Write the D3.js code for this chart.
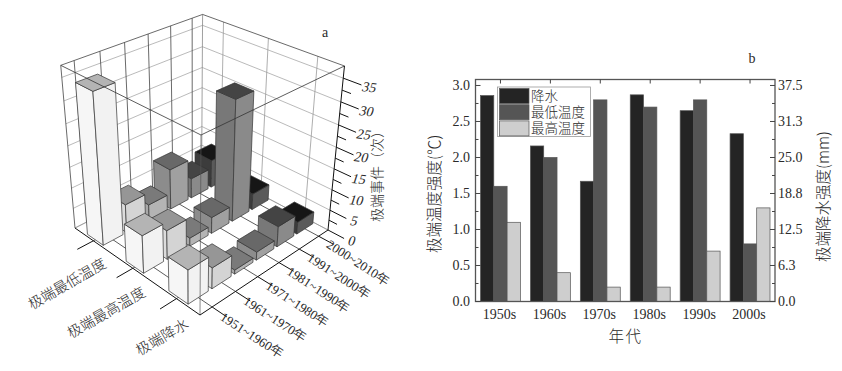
<!DOCTYPE html>
<html>
<head>
<meta charset="utf-8">
<script src="https://cdnjs.cloudflare.com/ajax/libs/d3/7.8.5/d3.min.js"></script>
<style>
  html, body { margin: 0; background: #fff; }
  svg { display: block; }
  text { fill: #2a2a2a; }
</style>
</head>
<body>
<div id="chart"></div>
<script>
// panel a: extreme event counts
let eventTypes = ['极端最低温度', '极端最高温度', '极端降水']
let decadeLabels = ['1951~1960年', '1961~1970年', '1971~1980年', '1981~1990年', '1991~2000年', '2000~2010年']
let minTempEvents = [35, 7, 4, 10, 5, 7]
let maxTempEvents = [9, 7, 2, 4, 29, 4]
let precipEvents = [8, 5, 1, 2, 5, 3]
let eventRows = [minTempEvents, maxTempEvents, precipEvents]
let eventTicks = [0, 5, 10, 15, 20, 25, 30, 35]
let eventMinorTicks = [2.5, 7.5, 12.5, 17.5, 22.5, 27.5, 32.5]

// panel b: intensity per decade
let decades = ['1950s', '1960s', '1970s', '1980s', '1990s', '2000s']
let precipIntensity = [2.86, 2.16, 1.67, 2.87, 2.65, 2.33]
let minTempIntensity = [1.6, 2.0, 2.8, 2.7, 2.8, 0.8]
let maxTempIntensity = [1.1, 0.4, 0.2, 0.2, 0.7, 1.3]
let seriesNames = ['降水', '最低温度', '最高温度']
let seriesColors = ['#242424', '#555555', '#cecece']
let tempTicks = [0, 0.5, 1, 1.5, 2, 2.5, 3]
let tempMinorTicks = [0.25, 0.75, 1.25, 1.75, 2.25, 2.75]
let rainTickLabels = ['0.0', '6.3', '12.5', '18.8', '25.0', '31.3', '37.5']

// grey levels per decade: [left face, right face, top]
let decadeShades = [
    ['#f6f6f6', '#f2f2f2', '#b4b4b4'],
    ['#dcdcdc', '#d4d4d4', '#969696'],
    ['#a8a8a8', '#b4b4b4', '#7a7a7a'],
    ['#8c8c8c', '#a0a0a0', '#686868'],
    ['#787878', '#8a8a8a', '#444444'],
    ['#3c3c3c', '#5a5a5a', '#161616']
]

let svg = d3.select('#chart').append('svg').attr('width', 842).attr('height', 371)
let serif = '"Liberation Serif", serif'
let cjk = '"Noto Sans CJK SC", sans-serif'

// perspective of the box: u runs front->left, v front->right, w floor->top
let g1 = 0.16, g2 = 0.15, g3 = -0.125
let origin = [200, 315], cornerU = [75, 228], cornerV = [328, 230], cornerW = [201, 135]
let coef = (c, i, g) => c[i] * (1 + g) - origin[i]
let project = (u, v, w) => {
    let d = 1 + g1 * u + g2 * v + g3 * w
    let px = origin[0] + coef(cornerU, 0, g1) * u + coef(cornerV, 0, g2) * v + coef(cornerW, 0, g3) * w
    let py = origin[1] + coef(cornerU, 1, g1) * u + coef(cornerV, 1, g2) * v + coef(cornerW, 1, g3) * w
    return [px / d, py / d]
}

let uScale = d3.scaleBand().domain(eventTypes).range([1, 0])
let vScale = d3.scaleBand().domain(decadeLabels).range([0, 1])
let wScale = d3.scaleLinear().domain([0, 37.5]).range([0, 1])
let uMid = (name) => uScale(name) + uScale.bandwidth() / 2
let vMid = (name) => vScale(name) + vScale.bandwidth() / 2

let panelA = svg.append('g')
let seg = (a, b, color, width, parent) => {
    let p = project(...a), q = project(...b);
    (parent || panelA).append('line')
        .attr('x1', p[0]).attr('y1', p[1]).attr('x2', q[0]).attr('y2', q[1])
        .attr('stroke', color).attr('stroke-width', width)
}

// walls
eventTicks.forEach((t) => {
    let w = wScale(t)
    seg([1, 0, w], [1, 1, w], '#a8a8a8', 0.8)
    seg([0, 1, w], [1, 1, w], '#a8a8a8', 0.8)
})
decadeLabels.forEach((d) => seg([1, vMid(d), 0], [1, vMid(d), 1], '#444', 0.8))
eventTypes.forEach((c) => seg([uMid(c), 1, 0], [uMid(c), 1, 1], '#999', 0.8))
seg([1, 1, 0], [1, 1, 1], '#888', 0.8)
seg([1, 0, 1], [1, 1, 1], '#444', 0.8)
seg([0, 1, 1], [1, 1, 1], '#444', 0.8)
seg([1, 0, 0], [1, 0, 1], '#444', 0.8)

// floor
eventTypes.forEach((c) => seg([uMid(c), 0, 0], [uMid(c), 1, 0], '#333', 0.8))
decadeLabels.forEach((d) => seg([0, vMid(d), 0], [1, vMid(d), 0], '#333', 0.8))
seg([1, 1, 0], [0, 1, 0], '#888', 0.6)
seg([1, 1, 0], [1, 0, 0], '#888', 0.6)

// bars, far ones first
let halfBar = 0.07
let bars = []
eventTypes.forEach((c, i) => {
    decadeLabels.forEach((d, j) => {
        bars.push({ u: uMid(c), v: vMid(d), value: eventRows[i][j], shade: decadeShades[j] })
    })
})
bars.sort((a, b) => (b.u + b.v) - (a.u + a.v))
let line = d3.line()
bars.forEach((b) => {
    let u0 = b.u - halfBar, u1 = b.u + halfBar, v0 = b.v - halfBar, v1 = b.v + halfBar, w = wScale(b.value)
    let faces = [
        [[[u1, v0, 0], [u0, v0, 0], [u0, v0, w], [u1, v0, w]], b.shade[0]],
        [[[u0, v0, 0], [u0, v1, 0], [u0, v1, w], [u0, v0, w]], b.shade[1]],
        [[[u0, v0, w], [u0, v1, w], [u1, v1, w], [u1, v0, w]], b.shade[2]]
    ]
    faces.forEach((f) => {
        panelA.append('path')
            .attr('d', line(f[0].map((p) => project(...p))) + 'Z')
            .attr('fill', f[1])
            .attr('stroke', '#333')
            .attr('stroke-width', 0.7)
            .attr('stroke-linejoin', 'round')
    })
})

// edges in front of the bars
seg([0, 0, 0], [0, 0, 1], '#555', 0.7)
seg([1, 0, 1], [0, 0, 1], '#333', 0.8)
seg([0, 1, 1], [0, 0, 1], '#333', 0.8)

// axes of the box
seg([0, 0, 0], [1, 0, 0], '#111', 1)
seg([0, 0, 0], [0, 1, 0], '#111', 1)
seg([0, 1, 0], [0, 1, 1], '#111', 1)

eventTypes.forEach((c) => {
    seg([uMid(c), 0, 0], [uMid(c), -0.11, 0], '#111', 1)
    let p = project(uMid(c), -0.15, 0)
    panelA.append('text')
        .attr('transform', `translate(${p[0] + 33},${p[1] + 9}) rotate(-30)`)
        .attr('text-anchor', 'end').attr('dy', '0.4em')
        .attr('font-family', cjk).attr('font-size', 14.5).attr('font-weight', 300)
        .text(c)
})
decadeLabels.forEach((d) => {
    seg([0, vMid(d), 0], [-0.1, vMid(d), 0], '#111', 1)
    let p = project(-0.085, vMid(d), 0)
    panelA.append('text')
        .attr('transform', `translate(${p[0] - 3},${p[1]}) rotate(33)`)
        .attr('dy', '0.35em')
        .attr('font-family', serif).attr('font-size', 13)
        .text(d)
})
eventTicks.forEach((t) => {
    seg([0, 1, wScale(t)], [-0.11, 1, wScale(t)], '#111', 1)
    let p = project(-0.11, 1, wScale(t))
    panelA.append('text')
        .attr('transform', `translate(${p[0] + 8},${p[1] + 2}) rotate(6) skewX(-12)`)
        .attr('text-anchor', 'middle').attr('dy', '0.35em')
        .attr('font-family', serif).attr('font-size', 14)
        .text(t)
})
eventMinorTicks.forEach((t) => seg([0, 1, wScale(t)], [-0.055, 1, wScale(t)], '#111', 1))

panelA.append('text')
    .attr('transform', 'translate(382,222) rotate(-90)')
    .attr('font-family', cjk).attr('font-size', 14).attr('font-weight', 300)
    .text('极端事件（次）')
svg.append('text').attr('x', 325).attr('y', 37).attr('text-anchor', 'middle')
    .attr('font-family', serif).attr('font-size', 14).text('a')

// ---------- panel b ----------
let panelB = svg.append('g')
let plotLeft = 475.5, plotRight = 775, plotTop = 79.5, plotBottom = 301.5
let xBand = d3.scaleBand().domain(decades).range([plotLeft, plotRight]).paddingInner(0.2).paddingOuter(0.1)
let subBand = d3.scaleBand().domain(seriesNames).range([0, xBand.bandwidth()])
let yTemp = d3.scaleLinear().domain([0, 3.083]).range([plotBottom, plotTop])
let rainAxisTicks = tempTicks.map((t, i) => [t, rainTickLabels[i]])
let seriesValues = [precipIntensity, minTempIntensity, maxTempIntensity]

seriesNames.forEach((name, s) => {
    panelB.append('g').selectAll('rect')
        .data(seriesValues[s])
        .enter()
        .append('rect')
        .attr('x', (d, i) => xBand(decades[i]) + subBand(name))
        .attr('y', (d) => yTemp(d))
        .attr('width', subBand.bandwidth())
        .attr('height', (d) => plotBottom - yTemp(d))
        .attr('fill', seriesColors[s])
        .attr('stroke', '#555')
        .attr('stroke-width', 0.7)
})

panelB.append('rect')
    .attr('x', plotLeft).attr('y', plotTop).attr('width', plotRight - plotLeft).attr('height', plotBottom - plotTop)
    .attr('fill', 'none').attr('stroke', '#555').attr('stroke-width', 1.3)

let tick = (x1, y1, x2, y2) => panelB.append('line')
    .attr('x1', x1).attr('y1', y1).attr('x2', x2).attr('y2', y2)
    .attr('stroke', '#444').attr('stroke-width', 1)

tempTicks.forEach((t) => {
    tick(plotLeft, yTemp(t), plotLeft + 5, yTemp(t))
    tick(plotRight, yTemp(t), plotRight - 5, yTemp(t))
})
tempMinorTicks.forEach((t) => {
    tick(plotLeft, yTemp(t), plotLeft + 3, yTemp(t))
    tick(plotRight, yTemp(t), plotRight - 3, yTemp(t))
})
decades.forEach((d) => {
    tick(xBand(d) + xBand.bandwidth() / 2, plotTop, xBand(d) + xBand.bandwidth() / 2, plotTop + 4)
    panelB.append('text')
        .attr('x', xBand(d) + xBand.bandwidth() / 2 - 1).attr('y', 319)
        .attr('text-anchor', 'middle')
        .attr('font-family', serif).attr('font-size', 14)
        .text(d)
})
tempTicks.forEach((t) => {
    panelB.append('text')
        .attr('x', 470).attr('y', yTemp(t)).attr('dy', '0.32em')
        .attr('text-anchor', 'end')
        .attr('font-family', serif).attr('font-size', 14)
        .text(d3.format('.1f')(t))
})
rainAxisTicks.forEach((t) => {
    panelB.append('text')
        .attr('x', 778).attr('y', yTemp(t[0])).attr('dy', '0.32em')
        .attr('font-family', serif).attr('font-size', 14)
        .text(t[1])
})

// legend
panelB.append('rect')
    .attr('x', 497.5).attr('y', 87).attr('width', 93).attr('height', 49.5)
    .attr('fill', '#fff').attr('stroke', '#999').attr('stroke-width', 0.8)
seriesNames.forEach((name, s) => {
    panelB.append('rect')
        .attr('x', 499.5).attr('y', 88.5 + s * 16.2).attr('width', 29.5).attr('height', 15)
        .attr('fill', seriesColors[s]).attr('stroke', '#555').attr('stroke-width', 0.7)
    panelB.append('text')
        .attr('x', 531).attr('y', 101 + s * 16.2)
        .attr('font-family', cjk).attr('font-size', 13.5).attr('font-weight', 300)
        .text(name)
})

panelB.append('text')
    .attr('transform', 'translate(440,253) rotate(-90)')
    .attr('font-family', cjk).attr('font-size', 15.5).attr('font-weight', 300)
    .text('极端温度强度(℃)')
panelB.append('text')
    .attr('transform', 'translate(829,262) rotate(-90)')
    .attr('font-family', cjk).attr('font-size', 15.5).attr('font-weight', 300)
    .text('极端降水强度(mm)')
panelB.append('text')
    .attr('x', 625.5).attr('y', 342).attr('text-anchor', 'middle')
    .attr('font-family', cjk).attr('font-size', 15.5).attr('font-weight', 300).attr('letter-spacing', 1.5)
    .text('年代')
svg.append('text').attr('x', 752).attr('y', 63).attr('text-anchor', 'middle')
    .attr('font-family', serif).attr('font-size', 14).text('b')
</script>
</body>
</html>
